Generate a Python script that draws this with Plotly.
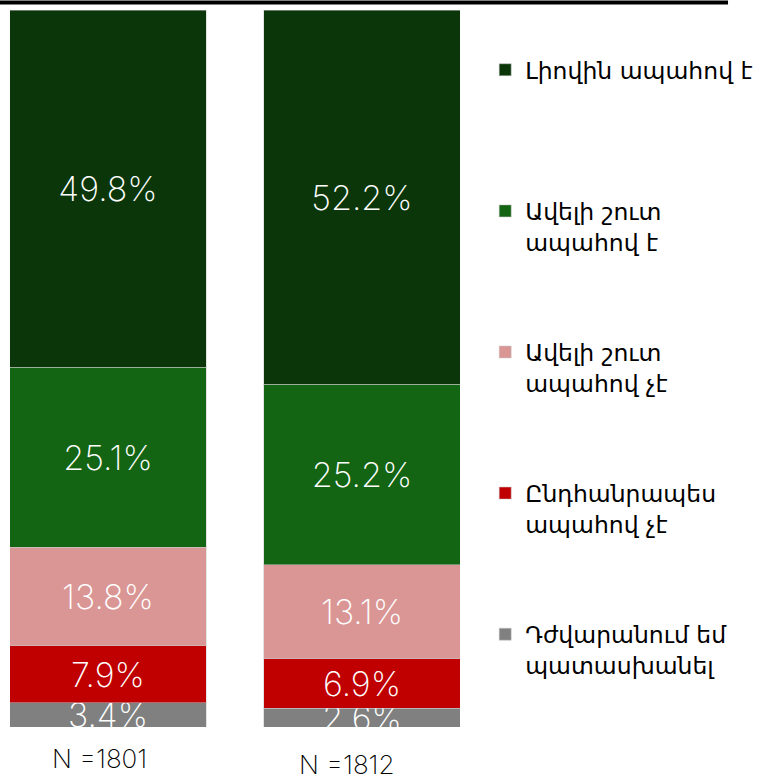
import plotly.graph_objects as go

groups = ["N =1801", "N =1812"]
categories = [
    "Դժվարանում եմ<br>պատասխանել",
    "Ընդհանրապես<br>ապահով չէ",
    "Ավելի շուտ<br>ապահով չէ",
    "Ավելի շուտ<br>ապահով է",
    "Լիովին ապահով է<br> ",
]
values = [
    [3.4, 2.6],
    [7.9, 6.9],
    [13.8, 13.1],
    [25.1, 25.2],
    [49.8, 52.2],
]
colors = ["#808080", "#C00000", "#DA9694", "#136413", "#0A360A"]

xpos = [0, 1]
fig = go.Figure()
n = len(categories)
for i, (cat, vals, col) in enumerate(zip(categories, values, colors)):
    fig.add_trace(go.Bar(
        x=xpos, y=vals, name=cat, legendgroup=str(i), legendrank=n - i,
        marker=dict(color=col, line=dict(color="rgba(200,200,200,0.5)", width=1)),
        text=[f"{v}%" for v in vals], textposition="inside",
        insidetextanchor="middle", constraintext="none",
        textfont=dict(family="Inter", size=34, color="white", weight=200),
        cliponaxis=True,
    ))

for i, g in enumerate(groups):
    fig.add_annotation(x=xpos[i], y=0, xref="x", yref="y", text=g, showarrow=False,
                       yanchor="top", xshift=-9 - 6 * i, yshift=-14 - 6 * i,
                       font=dict(family="Inter", size=26, color="black", weight=200))

fig.add_shape(type="line", xref="paper", yref="paper", x0=-0.0222, x1=1.5956,
              y0=1.0105, y1=1.0105, line=dict(color="black", width=4))

fig.update_layout(
    width=762, height=777,
    margin=dict(l=10, r=302, t=10, b=50, autoexpand=False),
    barmode="stack", bargap=0.228,
    plot_bgcolor="white", paper_bgcolor="white",
    uniformtext=dict(minsize=34, mode="show"),
    xaxis=dict(range=[-0.3858, 1.3858], showticklabels=False, showgrid=False,
               zeroline=False, showline=False, fixedrange=True),
    yaxis=dict(range=[0, 100], visible=False, showgrid=False, fixedrange=True),
    legend=dict(x=1.056, y=0.947, xanchor="left", yanchor="top",
                traceorder="grouped", tracegroupgap=77, valign="top",
                font=dict(family="DejaVu Sans", size=23.5, color="black"),
                itemwidth=30),
    showlegend=True,
)
fig.write_html("out.html", post_script="document.body.style.margin='0';",
               config={"displayModeBar": False})
